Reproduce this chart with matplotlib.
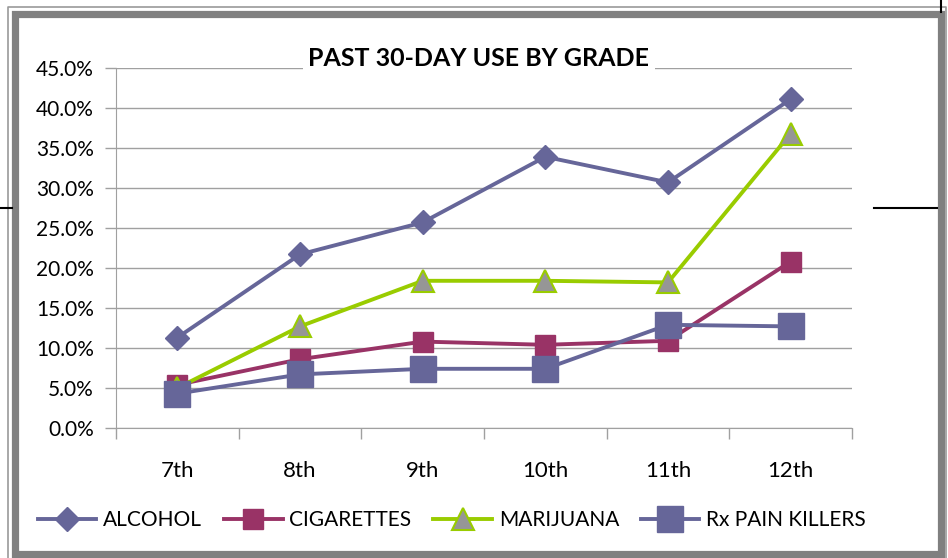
import matplotlib
matplotlib.use("Agg")
import matplotlib.pyplot as plt
from matplotlib.patches import Rectangle
from matplotlib.lines import Line2D

# data
grades = ['7th', '8th', '9th', '10th', '11th', '12th']
alcohol = [0.113, 0.217, 0.257, 0.339, 0.307, 0.411]
cigarettes = [0.054, 0.086, 0.108, 0.104, 0.109, 0.208]
marijuana = [0.050, 0.127, 0.184, 0.184, 0.182, 0.368]
rx_pain_killers = [0.043, 0.067, 0.074, 0.074, 0.129, 0.127]
yticks = [0.0, 0.05, 0.10, 0.15, 0.20, 0.25, 0.30, 0.35, 0.40, 0.45]

W, H = 948, 558
plt.rcParams['font.family'] = ['Lato', 'DejaVu Sans']

fig = plt.figure(figsize=(W / 100, H / 100), dpi=100)

def fx(px):
    return px / W

def fy(py):
    return 1 - py / H

ax = fig.add_axes([fx(116), fy(428), fx(852) - fx(116), fy(68) - fy(428)])

x = list(range(len(grades)))
lw = 2.8
ax.plot(x, alcohol, color='#666699', lw=lw, marker='D', ms=12, label='ALCOHOL', zorder=3)
ax.plot(x, cigarettes, color='#993366', lw=lw, marker='s', ms=14, label='CIGARETTES', zorder=3)
ax.plot(x, marijuana, color='#99cc00', lw=lw, marker='^', ms=16, mfc='#969696',
        mec='#99cc00', mew=1.5, label='MARIJUANA', zorder=3)
ax.plot(x, rx_pain_killers, color='#666699', lw=lw, marker='s', ms=19, label='Rx PAIN KILLERS', zorder=3)

ax.set_xlim(-0.5, len(grades) - 0.5)
ax.set_ylim(0, 0.45)
ax.set_yticks(yticks)
ax.set_yticklabels([f'{v * 100:.1f}%' for v in yticks])
ax.set_xticks(x)
ax.set_xticklabels(grades)
ax.set_xticks([i - 0.5 for i in range(len(grades) + 1)], minor=True)
ax.tick_params(axis='x', which='major', length=0, pad=24, labelsize=16)
ax.tick_params(axis='x', which='minor', length=8, color='#a0a0a0', width=1)
ax.tick_params(axis='y', length=8, color='#a0a0a0', width=1, labelsize=15, pad=8)
ax.grid(axis='y', color='#a0a0a0', lw=1)
ax.set_axisbelow(True)
for s in ['top', 'right']:
    ax.spines[s].set_visible(False)
for s in ['left', 'bottom']:
    ax.spines[s].set_color('#a0a0a0')

fig.text(fx(479), fy(58), 'PAST 30-DAY USE BY GRADE', ha='center', va='center',
         fontsize=18, fontweight='bold',
         bbox=dict(facecolor='white', edgecolor='none', pad=4), zorder=5)

fig.legend(loc='center', bbox_to_anchor=(fx(452), fy(520)), ncol=4, frameon=False,
           fontsize=15, handlelength=2.8, handletextpad=0.33, columnspacing=1.05)

# frame around the chart
fig.add_artist(Rectangle((fx(14.5), fy(554)), fx(940.5) - fx(14.5), fy(13.5) - fy(554),
                         transform=fig.transFigure, fill=False, ec='#808080', lw=5.2))
fig.add_artist(Line2D([fx(7.5), fx(7.5), fx(946), fx(946)], [fy(560), fy(6.5), fy(6.5), fy(560)],
                      transform=fig.transFigure, color='#9a9a9a', lw=1.2))
fig.add_artist(Line2D([fx(0), fx(12)], [fy(208), fy(208)], transform=fig.transFigure, color='black', lw=1.5))
fig.add_artist(Line2D([fx(874), fx(937)], [fy(208), fy(208)], transform=fig.transFigure, color='black', lw=1.5))
fig.add_artist(Line2D([fx(941), fx(941)], [fy(0), fy(12)], transform=fig.transFigure, color='black', lw=1.5))

fig.savefig('out.png', dpi=100)
